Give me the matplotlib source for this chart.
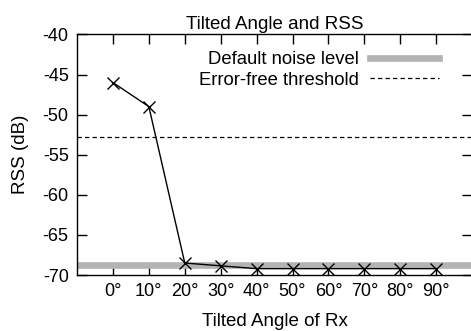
import matplotlib
matplotlib.use('Agg')
import matplotlib.pyplot as plt

plt.rcParams['font.family'] = ['Liberation Sans', 'DejaVu Sans']
plt.rcParams['font.size'] = 13
plt.rcParams['axes.unicode_minus'] = False

angles = [0, 10, 20, 30, 40, 50, 60, 70, 80, 90]
rss = [-46.0, -49.0, -68.5, -68.85, -69.2, -69.2, -69.2, -69.2, -69.2, -69.2]
noise_level = -68.75
threshold = -52.8
tick_labels = ['%d°' % a for a in angles]

fig = plt.figure(figsize=(4.71, 3.31), dpi=100)
ax = fig.add_axes([0.1635, 0.169, 0.839, 0.727])

ax.axhline(noise_level, color='#b3b3b3', lw=4.8, label='Default noise level')
ax.axhline(threshold, color='black', lw=0.9, ls=(0, (3.5, 2.5)), label='Error-free threshold')
ax.plot(angles, rss, color='black', lw=1, marker='x', markersize=8.5, mew=1)

ax.set_xlim(-10, 100)
ax.set_ylim(-70, -40)
ax.set_xticks(angles)
ax.set_xticklabels(tick_labels)
ax.set_yticks(range(-70, -39, 5))
ax.tick_params(direction='in', length=7, top=True, right=True, width=1, labelsize=13, pad=6)
for s in ax.spines.values():
    s.set_linewidth(1)

ax.set_title('Tilted Angle and RSS', fontsize=13.5, pad=4)
ax.set_xlabel('Tilted Angle of Rx', fontsize=13.5, labelpad=9)
ax.set_ylabel('RSS (dB)', fontsize=13.5, labelpad=10)

ax.legend(loc='upper right', bbox_to_anchor=(0.915, 0.93), frameon=False,
          markerfirst=False, handlelength=3.7, borderpad=0, borderaxespad=0,
          labelspacing=0.2, handletextpad=0.6, fontsize=13.3)

fig.savefig('out.png', dpi=100)
